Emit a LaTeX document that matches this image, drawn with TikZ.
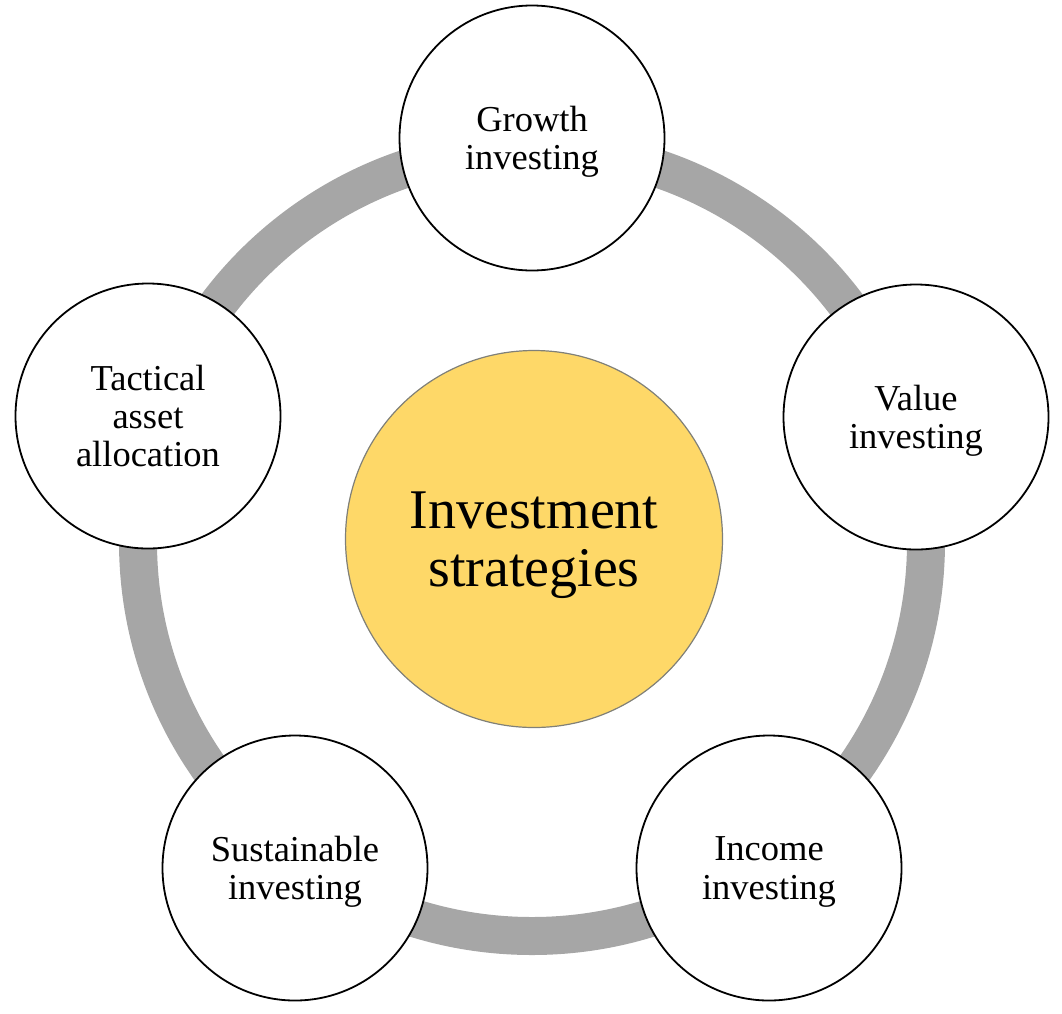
\documentclass[tikz,border=0pt]{standalone}
\usepackage{fontspec}
\setmainfont{Liberation Serif}
\definecolor{ringgray}{RGB}{166,166,166}
\definecolor{hubfill}{RGB}{254,216,104}
\definecolor{hubline}{RGB}{128,128,120}
\begin{document}
\begin{tikzpicture}[x=1pt,y=-1pt,
  ringline/.style={line width=38pt, draw=ringgray},
  outer/.style={circle, draw=black, line width=1.8pt, fill=white, minimum size=265pt, inner sep=0pt, align=center, font=\fontsize{36.5}{38.3}\selectfont, text depth=0pt},
  hub/.style={circle, draw=hubline, line width=1.2pt, fill=hubfill, minimum size=377pt, inner sep=0pt, align=center, font=\fontsize{56}{58}\selectfont, text depth=0pt}]
\useasboundingbox (0,0) rectangle (1062,1013);
\coordinate (c) at (532,542);
\draw[ringline] (c) circle[radius=394pt];
\node[hub] (hubnode) at (534,539) {Investment\\strategies};
\node[outer] (growth) at (532,138) {Growth\\investing};
\node[outer] (value) at (916,417) {Value\\investing};
\node[outer] (income) at (769,868) {Income\\investing};
\node[outer] (sust) at (295,868) {Sustainable\\investing};
\node[outer] (tact) at (148,416) {Tactical\\asset\\allocation};
\end{tikzpicture}
\end{document}
